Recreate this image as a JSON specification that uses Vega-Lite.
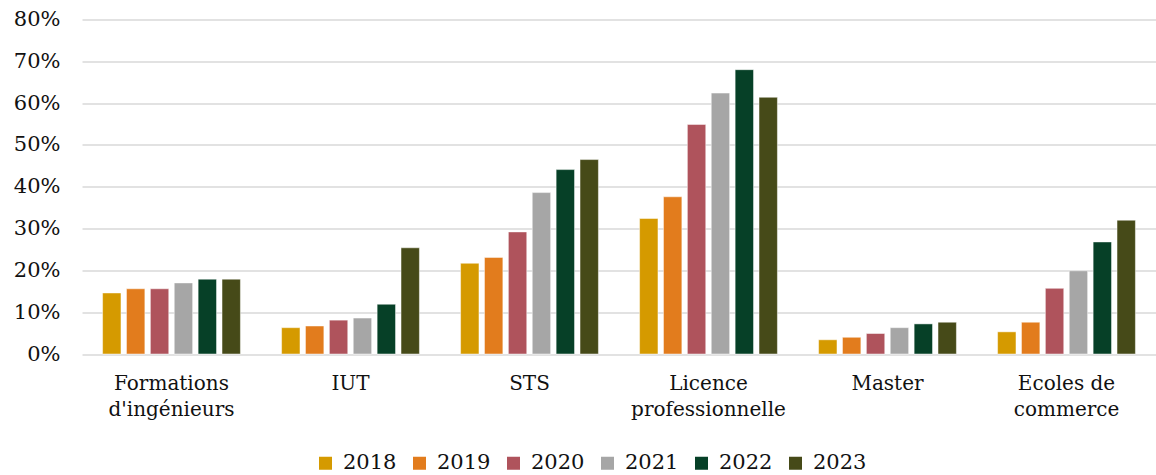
{
  "$schema": "https://vega.github.io/schema/vega-lite/v6.json",
  "autosize": "none",
  "width": 1074,
  "height": 334.5,
  "padding": {"left": 82, "top": 19.5, "right": 0, "bottom": 121},
  "background": "white",
  "config": {
    "view": {"stroke": null},
    "font": "DejaVu Serif",
    "axis": {"labelFont": "DejaVu Serif", "labelColor": "#111111"},
    "legend": {"labelFont": "DejaVu Serif", "labelColor": "#111111"}
  },
  "data": {
    "values": [
      {"cat": "Formations|d'ingénieurs", "year": "2018", "value": 0.146},
      {"cat": "Formations|d'ingénieurs", "year": "2019", "value": 0.156},
      {"cat": "Formations|d'ingénieurs", "year": "2020", "value": 0.156},
      {"cat": "Formations|d'ingénieurs", "year": "2021", "value": 0.170},
      {"cat": "Formations|d'ingénieurs", "year": "2022", "value": 0.179},
      {"cat": "Formations|d'ingénieurs", "year": "2023", "value": 0.179},
      {"cat": "IUT", "year": "2018", "value": 0.063},
      {"cat": "IUT", "year": "2019", "value": 0.067},
      {"cat": "IUT", "year": "2020", "value": 0.081},
      {"cat": "IUT", "year": "2021", "value": 0.086},
      {"cat": "IUT", "year": "2022", "value": 0.119},
      {"cat": "IUT", "year": "2023", "value": 0.254},
      {"cat": "STS", "year": "2018", "value": 0.217},
      {"cat": "STS", "year": "2019", "value": 0.231},
      {"cat": "STS", "year": "2020", "value": 0.292},
      {"cat": "STS", "year": "2021", "value": 0.386},
      {"cat": "STS", "year": "2022", "value": 0.441},
      {"cat": "STS", "year": "2023", "value": 0.465},
      {"cat": "Licence|professionnelle", "year": "2018", "value": 0.324},
      {"cat": "Licence|professionnelle", "year": "2019", "value": 0.376},
      {"cat": "Licence|professionnelle", "year": "2020", "value": 0.549},
      {"cat": "Licence|professionnelle", "year": "2021", "value": 0.624},
      {"cat": "Licence|professionnelle", "year": "2022", "value": 0.680},
      {"cat": "Licence|professionnelle", "year": "2023", "value": 0.614},
      {"cat": "Master", "year": "2018", "value": 0.034},
      {"cat": "Master", "year": "2019", "value": 0.040},
      {"cat": "Master", "year": "2020", "value": 0.049},
      {"cat": "Master", "year": "2021", "value": 0.063},
      {"cat": "Master", "year": "2022", "value": 0.072},
      {"cat": "Master", "year": "2023", "value": 0.076},
      {"cat": "Ecoles de|commerce", "year": "2018", "value": 0.053},
      {"cat": "Ecoles de|commerce", "year": "2019", "value": 0.076},
      {"cat": "Ecoles de|commerce", "year": "2020", "value": 0.157},
      {"cat": "Ecoles de|commerce", "year": "2021", "value": 0.199},
      {"cat": "Ecoles de|commerce", "year": "2022", "value": 0.268},
      {"cat": "Ecoles de|commerce", "year": "2023", "value": 0.320}
    ]
  },
  "mark": {"type": "bar", "stroke": "white", "strokeWidth": 0.8, "strokeOpacity": 0.6},
  "encoding": {
    "x": {
      "field": "cat",
      "type": "nominal",
      "sort": null,
      "title": null,
      "scale": {"paddingInner": 0.23, "paddingOuter": 0.115},
      "axis": {
        "labelAngle": 0,
        "labelExpr": "split(datum.label, '|')",
        "labelFontSize": 20,
        "labelLineHeight": 26,
        "labelPadding": 19,
        "ticks": false,
        "domain": false,
        "labelLimit": 300
      }
    },
    "xOffset": {
      "field": "year",
      "type": "nominal",
      "scale": {"paddingInner": 0.23, "paddingOuter": 0}
    },
    "y": {
      "field": "value",
      "type": "quantitative",
      "title": null,
      "scale": {"domain": [0, 0.8], "nice": false},
      "axis": {
        "values": [0, 0.1, 0.2, 0.3, 0.4, 0.5, 0.6, 0.7, 0.8],
        "format": ".0%",
        "labelFontSize": 21,
        "labelPadding": 22,
        "ticks": false,
        "domain": false,
        "grid": true,
        "gridColor": "#d9d9d9",
        "gridWidth": 1.5
      }
    },
    "color": {
      "field": "year",
      "type": "nominal",
      "title": null,
      "scale": {
        "domain": ["2018", "2019", "2020", "2021", "2022", "2023"],
        "range": ["#D59A00", "#E27C1D", "#AF535C", "#A6A6A6", "#064027", "#464A18"]
      },
      "legend": {
        "orient": "none",
        "direction": "horizontal",
        "legendX": 233,
        "legendY": 433,
        "padding": 0,
        "symbolType": "square",
        "symbolSize": 169,
        "symbolStrokeWidth": 0,
        "symbolOpacity": 1,
        "labelFontSize": 21,
        "labelOffset": 7,
        "columnPadding": 12
      }
    }
  }
}
